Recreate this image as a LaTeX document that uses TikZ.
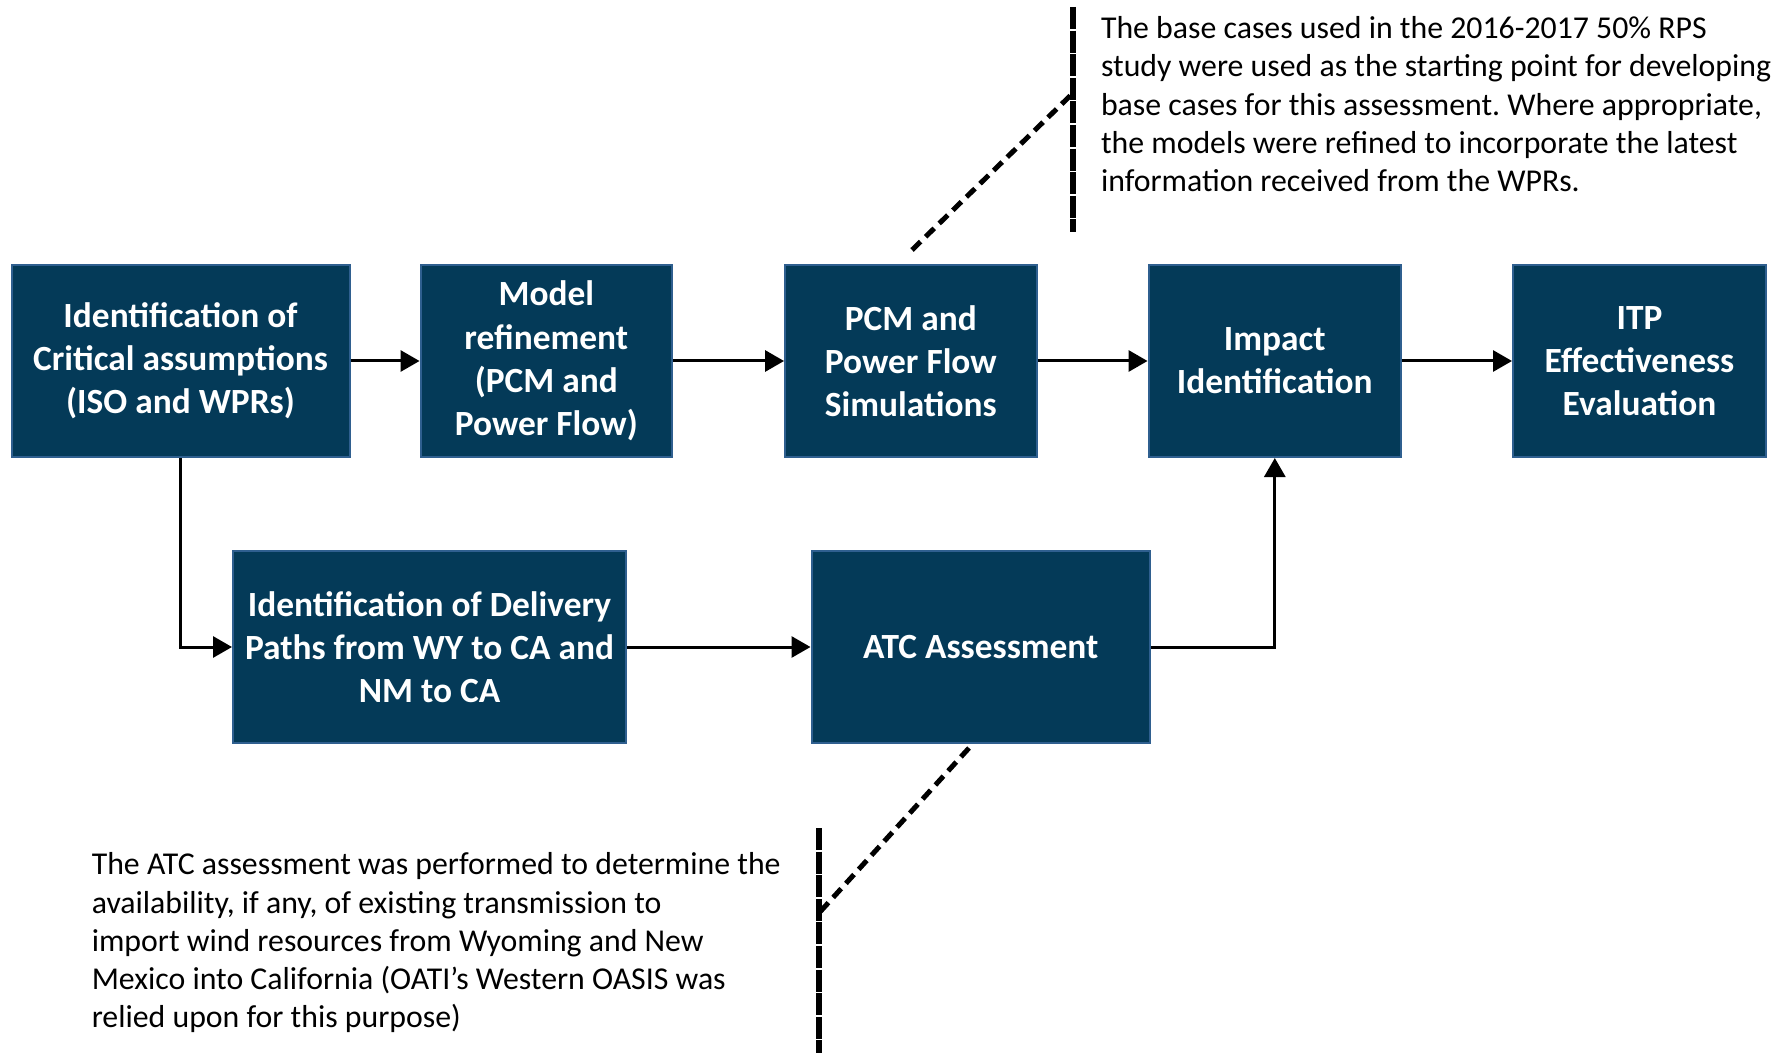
\documentclass[tikz,border=0pt]{standalone}
\usepackage{fontspec}
\setmainfont{Carlito}
\usepackage{tikz}
\usetikzlibrary{arrows.meta, positioning}
\definecolor{boxblue}{HTML}{043A58}
\definecolor{boxedge}{HTML}{2F5F8F}
\frenchspacing
\tikzset{
  stage/.style={rectangle, fill=boxblue, draw=boxedge, line width=1pt, text=white,
    font=\bfseries\fontsize{17.7}{21.6}\selectfont, align=center, inner sep=0pt, minimum height=96pt},
  flow/.style={line width=1.5pt, -{Triangle[length=9.5pt,width=10.5pt]}},
  note/.style={align=left, inner sep=0pt, font=\fontsize{15.9}{19.15}\selectfont},
  bracket/.style={line width=3pt, dash pattern=on 11pt off 0.8pt},
  leader/.style={line width=2.5pt, dash pattern=on 6pt off 3.5pt}
}
\begin{document}
\begin{tikzpicture}[x=0.5pt,y=-0.5pt]
\useasboundingbox (0,0) rectangle (1792,1053);
% process stages
\node[stage, minimum width=169pt] (crit) at (180.5,361) {Identification of\\Critical assumptions\\(ISO and WPRs)};
\node[stage, minimum width=125.75pt] (refine) at (546.3,361) {Model\\refinement\\(PCM and\\Power Flow)};
\node[stage, minimum width=125.75pt] (sim) at (910.8,361) {PCM and\\Power Flow\\Simulations};
\node[stage, minimum width=126.25pt] (impact) at (1274.8,361) {Impact\\Identification};
\node[stage, minimum width=126.5pt] (itp) at (1639.5,361) {ITP\\Effectiveness\\Evaluation};
\node[stage, minimum width=196.5pt] (paths) at (429.5,647) {Identification of Delivery\\Paths from WY to CA and\\NM to CA};
\node[stage, minimum width=169.25pt] (atc) at (980.75,647) {ATC Assessment};
% arrows
\draw[flow] (crit) -- (refine);
\draw[flow] (refine) -- (sim);
\draw[flow] (sim) -- (impact);
\draw[flow] (impact) -- (itp);
\draw[flow] (crit.south) |- (paths.west);
\draw[flow] (paths) -- (atc);
\draw[flow] (atc.east) -| (impact.south);
% callouts
\node[note, anchor=north west] (topnote) at (1100.6,16) {The base cases used in the 2016-2017 50\% RPS\\study were used as the starting point for developing\\base cases for this assessment. Where appropriate,\\the models were refined to incorporate the latest\\information received from the WPRs.};
\node[note, anchor=north west] (botnote) at (91.4,852.3) {The ATC assessment was performed to determine the\\availability, if any, of existing transmission to\\import wind resources from Wyoming and New\\Mexico into California (OATI’s Western OASIS was\\relied upon for this purpose)};
\coordinate (topA) at (1073,7);
\coordinate (topB) at (1073,232);
\coordinate (topK) at (1073,93);
\coordinate (topS) at (912,250);
\coordinate (botA) at (819,828);
\coordinate (botB) at (819,1053);
\coordinate (botK) at (819,913);
\coordinate (botS) at (969,748);
\draw[bracket] (topA) -- (topB);
\draw[leader] (topS) -- (topK);
\draw[bracket] (botA) -- (botB);
\draw[leader] (botS) -- (botK);
\end{tikzpicture}
\end{document}
